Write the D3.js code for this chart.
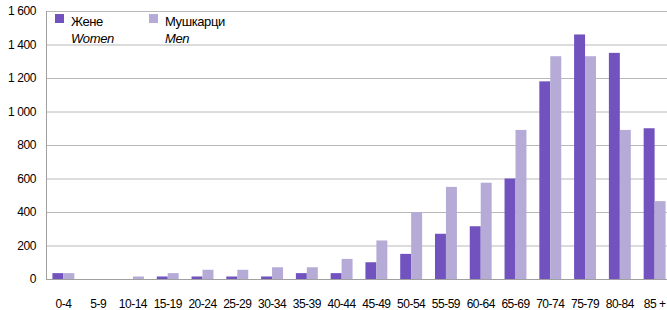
<!DOCTYPE html>
<html>
<head>
<meta charset="utf-8">
<script src="https://cdn.jsdelivr.net/npm/d3@7"></script>
<style>
    body { margin: 0; background: #fff; }
    svg { display: block; font-family: "Liberation Sans", Arial, sans-serif; }
</style>
</head>
<body>
<svg id="chart"></svg>
<script>
// age groups and deaths by sex
const ageGroups = ["0-4", "5-9", "10-14", "15-19", "20-24", "25-29", "30-34", "35-39", "40-44",
                   "45-49", "50-54", "55-59", "60-64", "65-69", "70-74", "75-79", "80-84", "85 +"];
const women = [35, 0, 0, 15, 15, 15, 15, 35, 35, 100, 150, 270, 315, 600, 1180, 1460, 1350, 900];
const men = [35, 0, 15, 35, 55, 55, 70, 70, 120, 230, 400, 550, 575, 890, 1330, 1330, 890, 465];
const yTicks = [0, 200, 400, 600, 800, 1000, 1200, 1400, 1600];
const yTickLabels = ["0", "200", "400", "600", "800", "1 000", "1 200", "1 400", "1 600"];
const seriesNames = [["Жене", "Women"], ["Мушкарци", "Men"]];
const colors = ["#7152bf", "#b5abd6"];

const width = 667, height = 310;
const plotLeft = 46, plotRight = 672, plotTop = 11, plotBottom = 279;

const svg = d3.select("#chart")
    .attr("width", width)
    .attr("height", height);

const x0 = d3.scaleBand()
    .domain(ageGroups)
    .range([plotLeft, plotRight])
    .paddingInner(0.37)
    .paddingOuter(0.185);

const x1 = d3.scaleBand()
    .domain([0, 1])
    .range([0, x0.bandwidth()]);

const y = d3.scaleLinear()
    .domain([0, 1600])
    .range([plotBottom, plotTop]);

// gridlines
svg.append("g")
    .selectAll("line")
    .data(yTicks.slice(1))
    .join("line")
    .attr("x1", plotLeft)
    .attr("x2", width)
    .attr("y1", d => y(d) + 0.5)
    .attr("y2", d => y(d) + 0.5)
    .attr("stroke", "#b8b8b8")
    .attr("stroke-width", 1);

// y axis labels
const yAxis = d3.axisLeft(y)
    .tickValues(yTicks)
    .tickSize(0)
    .tickPadding(10)
    .tickFormat((d, i) => yTickLabels[i]);

svg.append("g")
    .attr("transform", `translate(${plotLeft},0)`)
    .call(yAxis)
    .call(g => g.select(".domain").remove())
    .selectAll("text")
    .attr("font-size", 12)
    .attr("letter-spacing", -0.4)
    .attr("fill", "#000")
    .attr("font-family", "'Liberation Sans', Arial, sans-serif");

// bars
const groups = svg.append("g")
    .selectAll("g")
    .data(ageGroups)
    .join("g")
    .attr("transform", d => `translate(${x0(d)},0)`);

groups.selectAll("rect")
    .data((d, i) => [women[i], men[i]])
    .join("rect")
    .attr("x", (d, j) => x1(j))
    .attr("y", d => y(d))
    .attr("width", x1.bandwidth())
    .attr("height", d => plotBottom - y(d))
    .attr("fill", (d, j) => colors[j]);

// axis lines
svg.append("line")
    .attr("x1", plotLeft + 0.5).attr("x2", plotLeft + 0.5)
    .attr("y1", plotTop).attr("y2", plotBottom + 1)
    .attr("stroke", "#a0a0a0");
svg.append("line")
    .attr("x1", plotLeft).attr("x2", width)
    .attr("y1", plotBottom + 0.5).attr("y2", plotBottom + 0.5)
    .attr("stroke", "#a0a0a0");

// x labels
const xAxis = d3.axisBottom(x0).tickSize(0).tickPadding(20);
svg.append("g")
    .attr("transform", `translate(0,${plotBottom})`)
    .call(xAxis)
    .call(g => g.select(".domain").remove())
    .selectAll("text")
    .attr("font-size", 12)
    .attr("letter-spacing", -0.5)
    .attr("fill", "#000")
    .attr("font-family", "'Liberation Sans', Arial, sans-serif");

// legend
const legend = svg.append("g")
    .selectAll("g")
    .data(seriesNames)
    .join("g")
    .attr("transform", (d, i) => `translate(${i === 0 ? 55 : 149},14)`);

legend.append("rect")
    .attr("width", 9)
    .attr("height", 9)
    .attr("fill", (d, i) => colors[i]);

legend.append("text")
    .attr("x", 16)
    .attr("y", 12)
    .attr("font-size", 13)
    .attr("letter-spacing", -0.4)
    .text(d => d[0]);

legend.append("text")
    .attr("x", 16)
    .attr("y", 29)
    .attr("font-size", 13)
    .attr("font-style", "italic")
    .attr("letter-spacing", -0.4)
    .text(d => d[1]);
</script>
</body>
</html>
